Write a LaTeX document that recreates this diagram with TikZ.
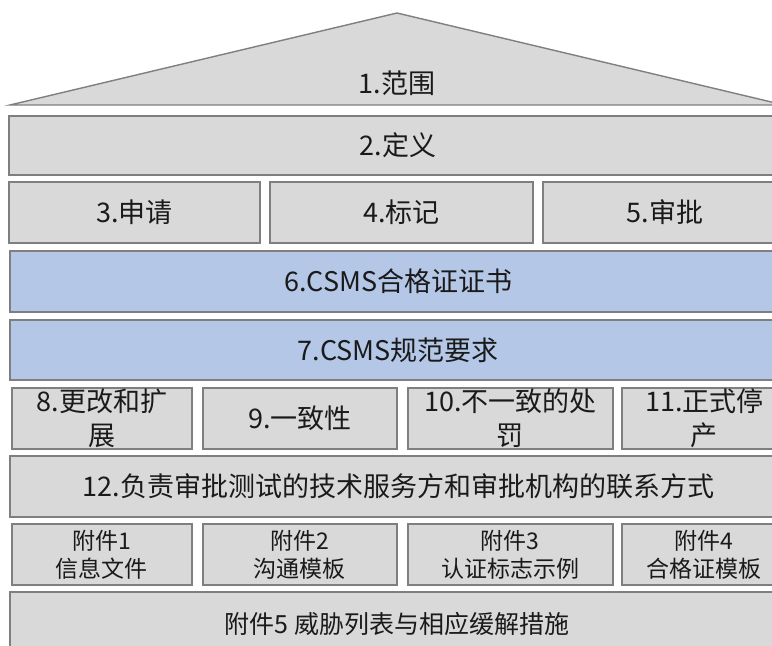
\documentclass[tikz,border=0pt]{standalone}
\usepackage{fontspec}
\setmainfont{Noto Sans CJK SC}
\definecolor{boxgray}{HTML}{D9D9D9}
\definecolor{edgegray}{HTML}{7F7F7F}
\definecolor{boxblue}{HTML}{B4C7E7}
\definecolor{txt}{HTML}{1A1A1A}
\begin{document}
\begin{tikzpicture}[x=1pt,y=-1pt,
  base/.style={draw=edgegray, line width=1.6pt, fill=boxgray, inner sep=0pt, anchor=north west, text=txt, align=center},
  big/.style={base, font=\fontsize{27}{34}\selectfont},
  small/.style={base, font=\fontsize{23}{28}\selectfont},
  bluebox/.style={big, fill=boxblue}]
\clip (0,0) rectangle (772,646);
\fill[white] (0,0) rectangle (772,646);
% roof
\draw[draw=edgegray, line width=1.4pt, fill=boxgray, line join=miter] (10,105) -- (397,13) -- (784,105) -- cycle;
\node[text=txt, font=\fontsize{27}{34}\selectfont] (t1) at (397,83) {1.范围};
% rows
\node[big, minimum width=778pt, minimum height=59pt] (r2) at (8,115) {2.定义};
\node[big, minimum width=251pt, minimum height=61pt] (r3) at (8,181) {3.申请};
\node[big, minimum width=263pt, minimum height=61pt] (r4) at (269,181) {4.标记};
\node[big, minimum width=244pt, minimum height=61pt] (r5) at (542,181) {5.审批};
\node[bluebox, minimum width=777pt, minimum height=61pt] (r6) at (9,250) {6.CSMS合格证证书};
\node[bluebox, minimum width=777pt, minimum height=60pt] (r7) at (9,319) {7.CSMS规范要求};
\node[big, minimum width=180pt, minimum height=61pt] (r8) at (11,387) {8.更改和扩\\展};
\node[big, minimum width=194pt, minimum height=61pt] (r9) at (202,387) {9.一致性};
\node[big, minimum width=205pt, minimum height=61pt] (r10) at (407,387) {10.不一致的处\\罚};
\node[big, minimum width=165pt, minimum height=61pt] (r11) at (621,387) {11.正式停\\产};
\node[big, minimum width=777pt, minimum height=61pt] (r12) at (9,455) {12.负责审批测试的技术服务方和审批机构的联系方式};
\node[small, minimum width=180pt, minimum height=61pt] (a1) at (11,523) {附件1\\信息文件};
\node[small, minimum width=194pt, minimum height=61pt] (a2) at (202,523) {附件2\\沟通模板};
\node[small, minimum width=205pt, minimum height=61pt] (a3) at (407,523) {附件3\\认证标志示例};
\node[small, minimum width=165pt, minimum height=61pt] (a4) at (621,523) {附件4\\合格证模板};
\node[base, minimum width=777pt, minimum height=70pt] (a5) at (9,591) {};
\node[text=txt, font=\fontsize{25}{30}\selectfont] (a5t) at (397,624) {附件5 威胁列表与相应缓解措施};
\end{tikzpicture}
\end{document}
